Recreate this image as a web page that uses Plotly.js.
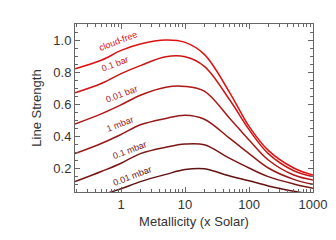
<!DOCTYPE html>
<html><head><meta charset="utf-8">
<script src="https://cdn.plot.ly/plotly-3.0.1.min.js"></script>
<style>html,body{margin:0;padding:0;background:#fff}#c{width:336px;height:240px}</style>
</head><body><div id="c"></div>
<script>
const metallicity = [0.19, 0.5, 1, 2, 5, 10, 20, 50, 100, 200, 500, 1000];
const cloudFree = [0.82, 0.875, 0.935, 0.975, 1.0, 0.985, 0.91, 0.67, 0.46, 0.31, 0.2, 0.156];
const bar0p1 = [0.67, 0.73, 0.79, 0.84, 0.895, 0.895, 0.835, 0.625, 0.44, 0.29, 0.183, 0.146];
const bar0p01 = [0.475, 0.54, 0.595, 0.655, 0.705, 0.71, 0.68, 0.51, 0.375, 0.25, 0.156, 0.125];
const mbar1 = [0.29, 0.355, 0.41, 0.47, 0.51, 0.53, 0.505, 0.385, 0.29, 0.2, 0.129, 0.098];
const mbar0p1 = [0.115, 0.18, 0.23, 0.29, 0.33, 0.35, 0.345, 0.26, 0.2, 0.146, 0.1, 0.073];
const mbar0p01 = [-0.06, 0.03, 0.07, 0.115, 0.16, 0.19, 0.195, 0.15, 0.12, 0.088, 0.055, 0.035];
const seriesNames = ["cloud-free", "0.1 bar", "0.01 bar", "1 mbar", "0.1 mbar", "0.01 mbar"];
const labelX = [0.9, 0.8, 1.03, 0.97, 1.38, 1.5];
const labelY = [0.995, 0.85, 0.665, 0.475, 0.31, 0.15];

const seriesData = [cloudFree, bar0p1, bar0p01, mbar1, mbar0p1, mbar0p01];
const colors = ["#e01010", "#cc1414", "#b01616", "#961818", "#7c1616", "#621212"];

const traces = seriesData.map((ys, i) => ({
  x: metallicity, y: ys, type: "scatter", mode: "lines", name: seriesNames[i],
  line: {color: colors[i], width: 1.5, shape: "spline", smoothing: 1.0},
  hoverinfo: "skip"
}));

const annotations = seriesNames.map((t, i) => ({
  x: Math.log10(labelX[i]), y: labelY[i], xref: "x", yref: "y", text: t,
  showarrow: false, textangle: -21,
  font: {family: "Liberation Sans, Arial, sans-serif", size: 9, color: colors[i]}
}));

const axisCommon = {
  showline: true, mirror: "ticks", linecolor: "#666", linewidth: 1,
  ticks: "inside", ticklen: 5, tickcolor: "#666", tickwidth: 1,
  showgrid: false, zeroline: false,
  tickfont: {family: "Liberation Sans, Arial, sans-serif", size: 13, color: "#333"}
};

const layout = {
  width: 336, height: 240,
  margin: {l: 75, r: 23, t: 24, b: 48},
  paper_bgcolor: "#fff", plot_bgcolor: "#fff",
  showlegend: false,
  font: {family: "Liberation Sans, Arial, sans-serif", color: "#333"},
  xaxis: Object.assign({}, axisCommon, {
    type: "log", range: [Math.log10(0.19), 3], dtick: 1, exponentformat: "none",
    minor: {dtick: "D1", ticks: "inside", ticklen: 3, tickcolor: "#666", showgrid: false},
    title: {text: "Metallicity (x Solar)", font: {size: 13, color: "#333"}, standoff: 6}
  }),
  yaxis: Object.assign({}, axisCommon, {
    range: [0.05, 1.1], tickvals: [0.2, 0.4, 0.6, 0.8, 1.0], ticktext: ["0.2", "0.4", "0.6", "0.8", "1.0"],
    minor: {dtick: 0.05, tick0: 0, ticks: "inside", ticklen: 3, tickcolor: "#666", showgrid: false},
    title: {text: "Line Strength", font: {size: 13, color: "#333"}, standoff: 8}
  }),
  annotations: annotations
};

Plotly.newPlot("c", traces, layout, {displayModeBar: false, staticPlot: true});
</script></body></html>
